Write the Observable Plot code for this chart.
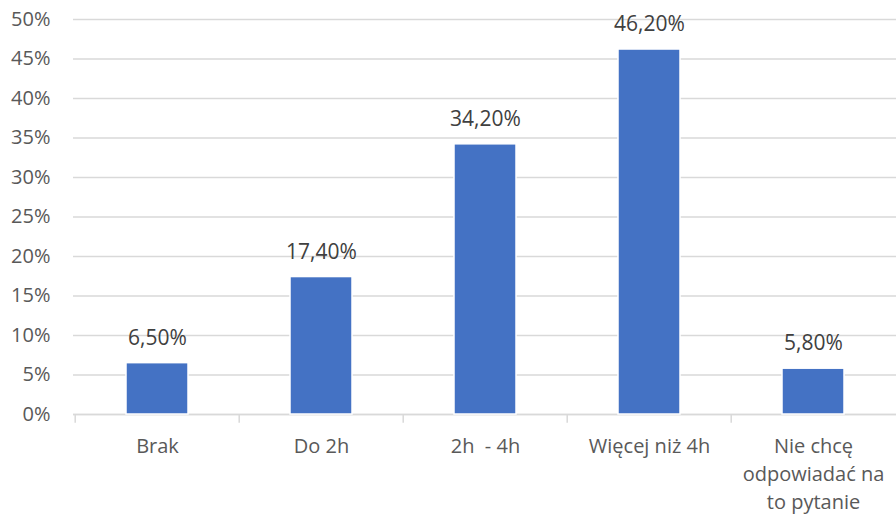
<!DOCTYPE html>
<html>
<head>
<meta charset="utf-8">
<script src="https://cdn.jsdelivr.net/npm/d3@7"></script>
<script src="https://cdn.jsdelivr.net/npm/@observablehq/plot@0.6"></script>
<style>
  html, body { margin: 0; padding: 0; background: #fff; }
</style>
</head>
<body>
<div id="chart"></div>
<script>
// Answer categories (x axis)
const categories = ["Brak", "Do 2h", "2h \u00a0- 4h", "Więcej niż 4h", "Nie chcę\nodpowiadać na\nto pytanie"];
// Share of respondents, percent
const shares = [6.5, 17.4, 34.2, 46.2, 5.8];
// Value labels above bars
const valueLabels = ["6,50%", "17,40%", "34,20%", "46,20%", "5,80%"];
// Y axis ticks (percent)
const yTicks = [0, 5, 10, 15, 20, 25, 30, 35, 40, 45, 50];

const data = categories.map((c, i) => ({cat: c, share: shares[i], label: valueLabels[i]}));

const W = 896, H = 516, ML = 73, MR = 0;
const step = (W - ML - MR) / categories.length;

const chart = Plot.plot({
  width: W,
  height: H,
  marginTop: 19,
  marginBottom: 102,
  marginLeft: ML,
  marginRight: MR,
  style: {fontFamily: "Open Sans", fontSize: "21px", background: "#fff"},
  x: {domain: categories, paddingInner: 0.623, paddingOuter: 0.3115},
  y: {domain: [0, 50]},
  marks: [
    Plot.gridY(yTicks, {stroke: "#d9d9d9", strokeOpacity: 1, strokeWidth: 1.3}),
    Plot.axisY(yTicks, {tickSize: 0, tickPadding: 23, tickFormat: d => d + "%", fill: "#595959", fontSize: 20, label: null}),
    Plot.axisX({tickSize: 0, tickPadding: 19, fill: "#595959", fontSize: 20, lineHeight: 1.4, label: null}),
    Plot.ruleY([0], {stroke: "#d9d9d9", strokeWidth: 1.5}),
    Plot.ruleX(categories, {x: d => d, dx: -step / 2, y1: 0, y2: -1.1, stroke: "#d9d9d9", strokeWidth: 1.5}),
    Plot.barY(data, {x: "cat", y: "share", fill: "#4472C4", stroke: "#ffffff", strokeWidth: 1.5}),
    Plot.text(data, {x: "cat", y: "share", text: "label", dy: -25, fill: "#404040", fontSize: 21})
  ]
});

document.getElementById("chart").appendChild(chart);
</script>
</body>
</html>
